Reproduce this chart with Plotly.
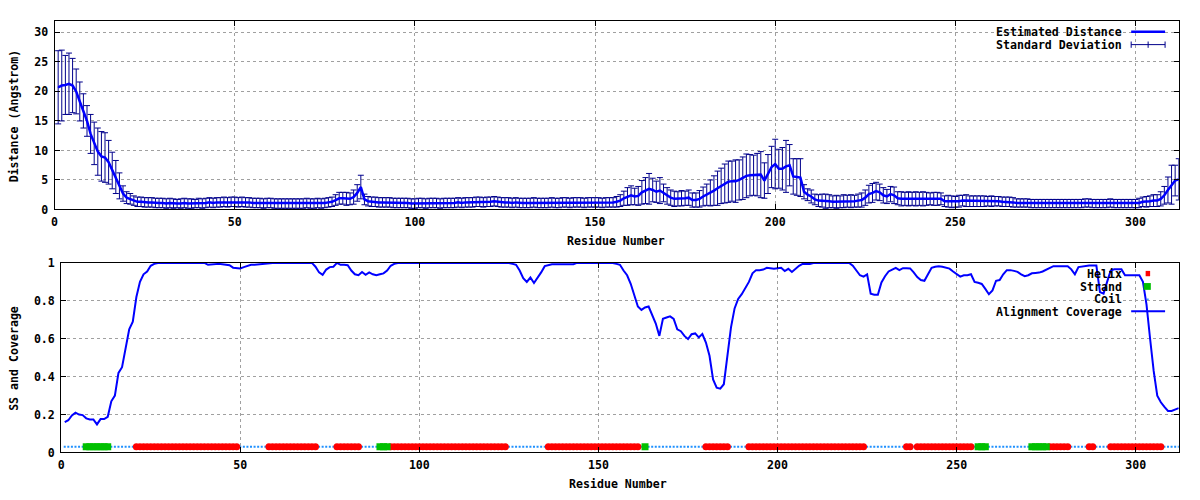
import plotly.graph_objects as go

W, H = 1200, 500

RESIDUES = list(range(1, 313))

DIST_MEAN = [
    20.7, 21.0, 21.1, 21.3, 21.0, 20.0, 18.3, 16.7, 15.0, 12.8,
    11.2, 9.8, 9.0, 8.8, 8.0, 6.6, 5.5, 4.0, 2.7, 2.0,
    1.8, 1.5, 1.3, 1.3, 1.2, 1.2, 1.2, 1.1, 1.1, 1.1,
    1.0, 1.1, 1.0, 1.0, 1.0, 1.1, 1.0, 1.0, 1.0, 1.1,
    1.0, 1.1, 1.2, 1.1, 1.2, 1.2, 1.3, 1.2, 1.3, 1.3,
    1.2, 1.3, 1.2, 1.2, 1.1, 1.1, 1.1, 1.0, 1.1, 1.1,
    1.0, 1.0, 1.0, 1.0, 1.0, 1.0, 1.0, 1.0, 1.0, 1.1,
    1.0, 1.0, 1.1, 1.0, 1.1, 1.2, 1.3, 1.6, 1.9, 1.9,
    1.8, 1.8, 2.1, 2.8, 3.8, 1.7, 1.4, 1.3, 1.3, 1.2,
    1.2, 1.2, 1.2, 1.1, 1.1, 1.1, 1.1, 1.1, 1.0, 1.0,
    1.1, 1.1, 1.0, 1.1, 1.1, 1.1, 1.0, 1.1, 1.1, 1.1,
    1.1, 1.2, 1.1, 1.2, 1.2, 1.2, 1.3, 1.3, 1.2, 1.3,
    1.3, 1.4, 1.3, 1.2, 1.2, 1.2, 1.1, 1.2, 1.1, 1.1,
    1.1, 1.1, 1.2, 1.1, 1.1, 1.1, 1.1, 1.2, 1.1, 1.1,
    1.2, 1.2, 1.1, 1.2, 1.2, 1.2, 1.1, 1.2, 1.2, 1.2,
    1.2, 1.1, 1.2, 1.2, 1.2, 1.3, 1.5, 1.9, 2.2, 2.4,
    2.2, 2.3, 2.9, 3.2, 3.5, 3.3, 3.0, 3.2, 2.8, 2.3,
    2.0, 1.8, 1.8, 1.9, 1.9, 2.0, 1.6, 1.6, 1.8, 2.2,
    2.5, 2.8, 3.2, 3.6, 4.0, 4.4, 4.7, 4.8, 4.8, 5.0,
    5.3, 5.7, 5.8, 5.8, 5.9, 5.9, 4.9, 6.0, 7.2, 7.7,
    6.9, 6.9, 7.3, 7.5, 5.6, 5.5, 5.4, 3.0, 2.5, 2.2,
    1.7, 1.5, 1.5, 1.4, 1.4, 1.3, 1.3, 1.3, 1.4, 1.4,
    1.4, 1.4, 1.5, 1.6, 2.0, 2.6, 2.8, 3.1, 2.9, 2.4,
    2.2, 2.6, 2.4, 1.9, 1.8, 1.8, 1.8, 1.8, 1.8, 1.8,
    1.8, 1.8, 1.8, 1.8, 1.8, 1.8, 1.4, 1.4, 1.3, 1.3,
    1.4, 1.5, 1.5, 1.4, 1.4, 1.4, 1.4, 1.4, 1.4, 1.4,
    1.4, 1.4, 1.3, 1.3, 1.3, 1.2, 1.1, 1.1, 1.1, 1.1,
    1.0, 1.0, 1.0, 1.0, 1.0, 1.0, 1.0, 1.0, 1.0, 1.0,
    1.0, 1.0, 1.0, 1.0, 1.0, 1.1, 1.1, 1.0, 1.0, 1.0,
    1.0, 1.0, 1.1, 1.0, 1.0, 1.0, 1.0, 1.0, 1.0, 1.0,
    1.1, 1.3, 1.3, 1.4, 1.5, 1.5, 1.8, 2.4, 3.3, 4.2,
    4.9, 5.1,
]

DIST_STD = [
    6.2, 6.0, 5.0, 5.2, 4.6, 3.8, 3.3, 2.9, 2.6, 3.3,
    3.6, 4.0, 4.2, 4.2, 3.7, 3.1, 2.8, 2.2, 1.3, 1.0,
    0.9, 0.8, 0.8, 0.8, 0.8, 0.8, 0.8, 0.8, 0.8, 0.8,
    0.8, 0.8, 0.8, 0.7, 0.8, 0.8, 0.8, 0.8, 0.7, 0.8,
    0.8, 0.8, 0.8, 0.8, 0.8, 0.8, 0.8, 0.8, 0.8, 0.8,
    0.8, 0.8, 0.8, 0.8, 0.8, 0.8, 0.8, 0.8, 0.8, 0.8,
    0.8, 0.8, 0.8, 0.8, 0.8, 0.8, 0.8, 0.8, 0.8, 0.8,
    0.8, 0.8, 0.8, 0.8, 0.8, 0.8, 0.8, 0.9, 1.0, 1.0,
    1.1, 1.0, 1.2, 1.4, 2.0, 0.9, 0.8, 0.8, 0.8, 0.8,
    0.8, 0.8, 0.8, 0.8, 0.8, 0.8, 0.8, 0.8, 0.8, 0.8,
    0.8, 0.8, 0.8, 0.8, 0.8, 0.8, 0.8, 0.8, 0.8, 0.8,
    0.8, 0.8, 0.8, 0.8, 0.8, 0.8, 0.8, 0.8, 0.8, 0.8,
    0.8, 0.8, 0.8, 0.8, 0.8, 0.8, 0.8, 0.8, 0.8, 0.8,
    0.8, 0.8, 0.8, 0.8, 0.8, 0.8, 0.8, 0.8, 0.8, 0.8,
    0.8, 0.8, 0.8, 0.8, 0.8, 0.8, 0.8, 0.8, 0.8, 0.8,
    0.8, 0.8, 0.8, 0.8, 0.8, 0.9, 1.0, 1.2, 1.5, 1.6,
    1.4, 1.6, 2.0, 2.2, 2.6, 2.0, 1.8, 2.2, 1.5, 1.4,
    1.3, 1.3, 1.2, 1.3, 1.2, 1.3, 1.2, 1.2, 1.4, 1.6,
    1.8, 2.2, 2.5, 2.9, 3.0, 3.3, 3.5, 3.4, 3.6, 3.4,
    3.6, 3.7, 3.5, 3.4, 3.6, 3.9, 3.0, 3.3, 3.5, 4.2,
    3.3, 3.6, 4.4, 3.5, 3.0, 3.1, 3.2, 1.2, 1.0, 1.1,
    0.9, 1.0, 1.1, 1.2, 1.1, 1.0, 1.1, 1.0, 1.1, 1.0,
    1.1, 1.0, 1.1, 1.2, 1.3, 1.5, 1.6, 1.5, 1.4, 1.3,
    1.2, 1.3, 1.4, 1.1, 1.2, 1.1, 1.2, 1.1, 1.2, 1.1,
    1.2, 1.1, 1.0, 1.1, 1.1, 1.0, 0.9, 1.0, 1.0, 0.9,
    1.0, 0.9, 1.0, 0.9, 0.9, 0.9, 0.9, 0.9, 0.8, 0.9,
    0.8, 0.8, 0.8, 0.8, 0.8, 0.8, 0.7, 0.7, 0.7, 0.7,
    0.7, 0.7, 0.7, 0.7, 0.7, 0.7, 0.7, 0.7, 0.7, 0.7,
    0.7, 0.7, 0.7, 0.7, 0.7, 0.7, 0.7, 0.7, 0.7, 0.7,
    0.7, 0.7, 0.7, 0.7, 0.7, 0.7, 0.7, 0.7, 0.7, 0.7,
    0.8, 0.8, 0.9, 0.9, 1.0, 1.0, 1.2, 1.5, 2.2, 3.3,
    2.6, 3.5,
]

COVERAGE = [
    0.16, 0.17, 0.195, 0.21, 0.20, 0.197, 0.18, 0.174, 0.174, 0.148,
    0.176, 0.176, 0.188, 0.27, 0.30, 0.42, 0.45, 0.56, 0.65, 0.69,
    0.82, 0.90, 0.94, 0.955, 0.985, 0.995, 1.0, 1.0, 1.0, 1.0,
    1.0, 1.0, 1.0, 1.0, 1.0, 1.0, 1.0, 1.0, 1.0, 1.0,
    0.99, 0.992, 0.995, 0.995, 0.993, 0.99, 0.988, 0.975, 0.971, 0.971,
    0.978, 0.985, 0.99, 0.99, 0.992, 0.993, 0.996, 1.0, 1.0, 1.0,
    1.0, 1.0, 1.0, 1.0, 1.0, 1.0, 1.0, 1.0, 1.0, 1.0,
    0.98, 0.95, 0.937, 0.965, 0.978, 0.98, 1.0, 0.99, 0.99, 0.988,
    0.96, 0.94, 0.935, 0.952, 0.937, 0.95, 0.94, 0.935, 0.94, 0.945,
    0.96, 0.985, 0.995, 1.0, 1.0, 1.0, 1.0, 1.0, 1.0, 1.0,
    1.0, 1.0, 1.0, 1.0, 1.0, 1.0, 1.0, 1.0, 1.0, 1.0,
    1.0, 1.0, 1.0, 1.0, 1.0, 1.0, 1.0, 1.0, 1.0, 1.0,
    1.0, 1.0, 1.0, 1.0, 1.0, 0.995, 0.99, 0.96, 0.92, 0.90,
    0.923, 0.894, 0.92, 0.95, 0.983, 0.99, 0.993, 0.993, 0.993, 0.993,
    0.993, 0.993, 0.993, 1.0, 1.0, 1.0, 1.0, 1.0, 1.0, 1.0,
    1.0, 1.0, 1.0, 1.0, 0.995, 0.99, 0.96, 0.935, 0.89, 0.83,
    0.77, 0.752, 0.765, 0.77, 0.72, 0.68, 0.615, 0.705, 0.712, 0.718,
    0.705, 0.65, 0.64, 0.615, 0.598, 0.624, 0.628, 0.607, 0.625, 0.58,
    0.51, 0.385, 0.342, 0.337, 0.36, 0.52, 0.66, 0.76, 0.81, 0.835,
    0.87, 0.90, 0.945, 0.962, 0.962, 0.965, 0.974, 0.972, 0.969, 0.972,
    0.974, 0.957, 0.969, 0.952, 0.97, 0.985, 0.995, 0.995, 0.995, 1.0,
    1.0, 1.0, 1.0, 1.0, 1.0, 1.0, 1.0, 1.0, 1.0, 1.0,
    0.985, 0.96, 0.935, 0.928, 0.94, 0.838, 0.832, 0.832, 0.897, 0.93,
    0.955, 0.965, 0.974, 0.962, 0.972, 0.972, 0.971, 0.95, 0.925, 0.91,
    0.906, 0.94, 0.974, 0.98, 0.983, 0.98, 0.975, 0.97, 0.955, 0.94,
    0.928, 0.935, 0.935, 0.94, 0.90, 0.895, 0.889, 0.863, 0.835, 0.855,
    0.906, 0.91, 0.94, 0.962, 0.962, 0.958, 0.953, 0.94, 0.93, 0.935,
    0.945, 0.947, 0.949, 0.955, 0.965, 0.972, 0.983, 0.983, 0.983, 0.983,
    0.983, 0.966, 0.94, 0.978, 0.982, 0.986, 0.986, 0.986, 0.986, 0.846,
    0.838, 0.90, 0.96, 0.966, 0.966, 0.966, 0.935, 0.935, 0.935, 0.935,
    0.935, 0.90, 0.78, 0.60, 0.43, 0.30, 0.265, 0.24, 0.219, 0.219,
    0.225, 0.234,
]

HELIX_SEGMENTS = [(21, 49), (58, 71), (77, 83), (92, 124), (136, 161), (180, 186),
                  (192, 224), (236, 237), (239, 254), (276, 281), (287, 288), (293, 307)]
STRAND_SEGMENTS = [(7, 13), (89, 91), (163, 163), (256, 258), (271, 275)]
SS_LEVEL = 0.03

X_TICKS = [0, 50, 100, 150, 200, 250, 300]
Y1_TICKS = [0, 5, 10, 15, 20, 25, 30]
Y2_TICKS = [0, 0.2, 0.4, 0.6, 0.8, 1]
Y2_TICKTEXT = ["0", "0.2", "0.4", "0.6", "0.8", "1"]

# derive secondary-structure membership per residue
helix_set = {r for a, b in HELIX_SEGMENTS for r in range(a, b + 1)}
strand_set = {r for a, b in STRAND_SEGMENTS for r in range(a, b + 1)}
coil_x = [r for r in RESIDUES if r not in helix_set and r not in strand_set]
helix_x = [r for r in RESIDUES if r in helix_set]
strand_x = [r for r in RESIDUES if r in strand_set]

FONT = dict(family="DejaVu Sans Mono", size=11.6, color="black", weight="bold")

fig = go.Figure()

# top panel
fig.add_trace(go.Scatter(
    x=RESIDUES, y=DIST_MEAN, mode="markers", xaxis="x", yaxis="y",
    marker=dict(size=1, color="#00008B"),
    error_y=dict(type="data", array=DIST_STD, color="#00008B", thickness=1, width=3),
    showlegend=False, hoverinfo="skip"))
fig.add_trace(go.Scatter(
    x=RESIDUES, y=DIST_MEAN, mode="lines", xaxis="x", yaxis="y",
    line=dict(color="#0000FF", width=2.5), showlegend=False))

# bottom panel
fig.add_trace(go.Scatter(
    x=coil_x, y=[SS_LEVEL] * len(coil_x), mode="markers", xaxis="x2", yaxis="y2",
    marker=dict(symbol="square", size=2, color="#1E90FF", line=dict(width=0)),
    showlegend=False))
fig.add_trace(go.Scatter(
    x=helix_x, y=[SS_LEVEL] * len(helix_x), mode="markers", xaxis="x2", yaxis="y2",
    marker=dict(symbol="circle", size=7, color="#FF0000", line=dict(width=0)),
    showlegend=False))
fig.add_trace(go.Scatter(
    x=strand_x, y=[SS_LEVEL] * len(strand_x), mode="markers", xaxis="x2", yaxis="y2",
    marker=dict(symbol="square", size=7, color="#00C000", line=dict(width=0)),
    showlegend=False))
fig.add_trace(go.Scatter(
    x=RESIDUES, y=COVERAGE, mode="lines", xaxis="x2", yaxis="y2",
    line=dict(color="#0000FF", width=2), showlegend=False))


def px(x):
    return x / W


def py(y):
    return 1 - y / H


axis_common = dict(
    showline=True, linecolor="black", linewidth=1, mirror="allticks",
    ticks="inside", ticklen=5, tickcolor="black", tickwidth=1,
    showgrid=True, gridcolor="#a0a0a0", griddash="3px,3px", gridwidth=1,
    zeroline=False, tickfont=FONT,
)

fig.update_layout(
    width=W, height=H, margin=dict(l=0, r=0, t=0, b=0, pad=0),
    paper_bgcolor="white", plot_bgcolor="white", showlegend=False,
    xaxis=dict(domain=[px(51.7), px(1178.7)], range=[0, 312], anchor="y",
               tickvals=X_TICKS, ticklabelstandoff=2, **axis_common),
    yaxis=dict(domain=[py(208.3), py(14)], range=[0, 32], anchor="x",
               tickvals=Y1_TICKS, ticklabelstandoff=3, **axis_common),
    xaxis2=dict(domain=[px(58.3), px(1178.7)], range=[0, 312], anchor="y2",
                tickvals=X_TICKS, ticklabelstandoff=2, **axis_common),
    yaxis2=dict(domain=[py(458.3), py(263.3)], range=[0, 1], anchor="x2",
                tickvals=Y2_TICKS, ticktext=Y2_TICKTEXT, ticklabelstandoff=3, **axis_common),
)

annotations = [
    dict(text="Residue Number", x=px(615), y=py(241), xref="paper", yref="paper",
         showarrow=False, font=FONT, xanchor="center", yanchor="middle"),
    dict(text="Residue Number", x=px(617), y=py(491), xref="paper", yref="paper",
         showarrow=False, font=FONT, xanchor="center", yanchor="middle"),
    dict(text="Distance (Angstrom)", x=px(10.5), y=py(112), xref="paper", yref="paper",
         showarrow=False, font=FONT, textangle=-90, xanchor="center", yanchor="middle"),
    dict(text="SS and Coverage", x=px(11), y=py(361), xref="paper", yref="paper",
         showarrow=False, font=FONT, textangle=-90, xanchor="center", yanchor="middle"),
]
for label, yy in [("Estimated Distance", 26), ("Standard Deviation", 39),
                  ("Helix", 274.3), ("Strand", 287.7), ("Coil", 300.7),
                  ("Alignment Coverage", 313.3)]:
    annotations.append(dict(text=label, x=px(1124), y=py(yy), xref="paper", yref="paper",
                            showarrow=False, font=FONT, xanchor="right", yanchor="middle"))
fig.update_layout(annotations=annotations)

P = dict(xref="paper", yref="paper")
shapes = [
    # Estimated Distance sample
    dict(type="line", x0=px(1131), x1=px(1165), y0=py(25.5), y1=py(25.5),
         line=dict(color="#0000FF", width=2.5), **P),
    # Standard Deviation sample
    dict(type="line", x0=px(1131), x1=px(1165), y0=py(38.7), y1=py(38.7),
         line=dict(color="#00008B", width=1), **P),
    dict(type="line", x0=px(1131), x1=px(1131), y0=py(35.5), y1=py(42),
         line=dict(color="#00008B", width=1), **P),
    dict(type="line", x0=px(1165), x1=px(1165), y0=py(35.5), y1=py(42),
         line=dict(color="#00008B", width=1), **P),
    dict(type="line", x0=px(1148), x1=px(1148), y0=py(35.5), y1=py(42),
         line=dict(color="#00008B", width=1), **P),
    # Helix sample
    dict(type="rect", x0=px(1145.5), x1=px(1150), y0=py(277), y1=py(271.5),
         fillcolor="#FF0000", line=dict(width=0), **P),
    # Strand sample
    dict(type="rect", x0=px(1143.5), x1=px(1150.7), y0=py(291), y1=py(284),
         fillcolor="#00C000", line=dict(width=0), **P),
    # Coil sample
    dict(type="rect", x0=px(1147), x1=px(1148.5), y0=py(301.5), y1=py(300),
         fillcolor="#1E90FF", line=dict(width=0), **P),
    # Alignment Coverage sample
    dict(type="line", x0=px(1131), x1=px(1165), y0=py(313), y1=py(313),
         line=dict(color="#0000FF", width=2), **P),
]
fig.update_layout(shapes=shapes)

fig.write_html("out.html", config={"displayModeBar": False},
               post_script="document.body.style.margin='0';document.body.style.overflow='hidden';")
